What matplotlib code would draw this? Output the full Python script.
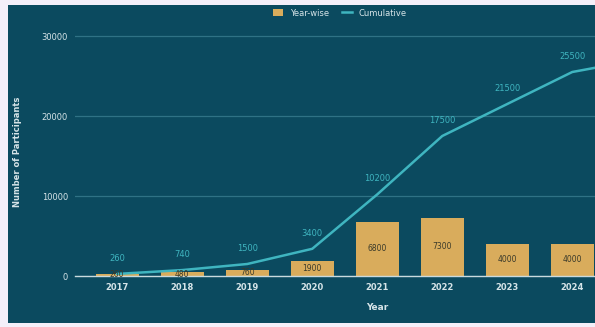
import numpy as np
import matplotlib
matplotlib.use("Agg")
import matplotlib.pyplot as plt
from matplotlib.patches import Rectangle

# data
years = ["2017", "2018", "2019", "2020", "2021", "2022", "2023", "2024", "2025"]
yearly = [260, 480, 760, 1900, 6800, 7300, 4000, 4000, 1500]
cumulative = [260, 740, 1500, 3400, 10200, 17500, 21500, 25500, 27000]
yticks = [0, 10000, 20000, 30000]
n_shown = 8

bg = "#0b4a5f"
bar_col = "#d9ac5c"
line_col = "#3fb5c0"
txt_col = "#d6e4e8"

fig = plt.figure(figsize=(5.95, 3.27), dpi=100)
fig.patch.set_facecolor("#f4eff9")
fig.patches.append(Rectangle((8 / 595, 4 / 327), 1 - 8 / 595, 1 - 9 / 327,
                             transform=fig.transFigure, facecolor=bg,
                             edgecolor="none", zorder=-10))

ax = fig.add_axes([75 / 595, 1 - 276 / 327, 520 / 595, 248 / 327])
ax.set_facecolor(bg)
x = np.arange(len(years))

ax.bar(x, yearly, width=0.66, color=bar_col, zorder=2, label="Year-wise")
ax.plot(x, cumulative, color=line_col, lw=1.8, zorder=3, label="Cumulative")

for xi, v in zip(x[:n_shown], yearly[:n_shown]):
    ax.text(xi, v / 2, str(v), ha="center", va="center", fontsize=5.5,
            color="#3a3a2a", zorder=4)
for xi, v in zip(x[:n_shown], cumulative[:n_shown]):
    ax.annotate(str(v), (xi, v), xytext=(0, 8), textcoords="offset points",
                ha="center", va="bottom", fontsize=6, color=line_col, zorder=4)

ax.set_xlim(-0.65, 7.35)
ax.set_ylim(0, 31000)
ax.set_xticks(x[:n_shown])
ax.set_xticklabels(years[:n_shown], fontsize=6, color=txt_col, fontweight="bold")
ax.set_yticks(yticks)
ax.set_yticklabels([str(t) for t in yticks], fontsize=6, color=txt_col)
ax.tick_params(length=0, pad=5)
ax.grid(axis="y", color="#2f7285", lw=0.9, zorder=1)
ax.set_axisbelow(True)
for s in ["top", "right", "left"]:
    ax.spines[s].set_visible(False)
ax.spines["bottom"].set_color("#c9dade")
ax.spines["bottom"].set_linewidth(1.0)

ax.set_xlabel("Year", fontsize=6.5, color=txt_col, fontweight="bold")
ax.xaxis.set_label_coords((377 - 75) / 520, -0.11)
ax.set_ylabel("Number of Participants", fontsize=6, color=txt_col, fontweight="bold")
ax.yaxis.set_label_coords(-53 / 520, 0.5)

handles, labels = ax.get_legend_handles_labels()
order = [labels.index("Year-wise"), labels.index("Cumulative")]
leg = fig.legend([handles[i] for i in order], [labels[i] for i in order],
                 loc="center", bbox_to_anchor=(340 / 595, 1 - 13 / 327), ncol=2,
                 frameon=False, fontsize=6, handlelength=1.2, handleheight=0.9,
                 columnspacing=1.5)
for t in leg.get_texts():
    t.set_color(txt_col)

plt.savefig("out.png", dpi=100, facecolor=fig.get_facecolor())
